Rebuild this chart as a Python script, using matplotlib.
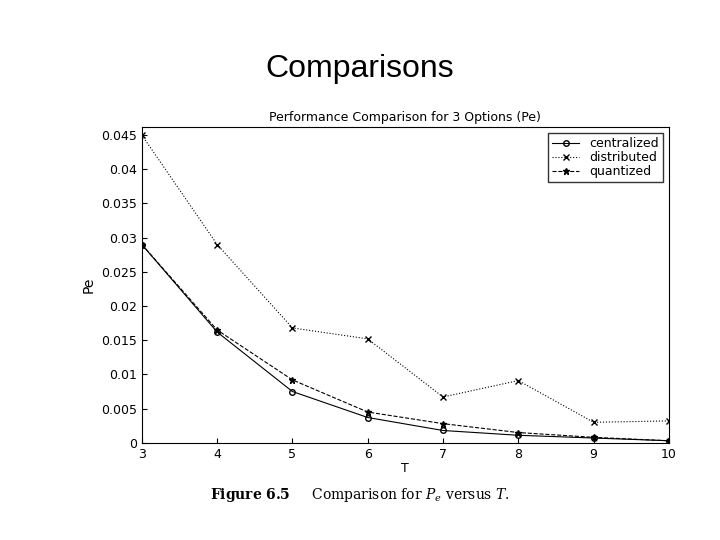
import matplotlib
matplotlib.use("Agg")
import matplotlib.pyplot as plt
plt.rcParams["mathtext.fontset"] = "dejavuserif"

T = [3, 4, 5, 6, 7, 8, 9, 10]
centralized = [0.029, 0.0162, 0.0075, 0.0037, 0.0018, 0.0011, 0.0007, 0.0003]
distributed = [0.045, 0.029, 0.0168, 0.0152, 0.0067, 0.0091, 0.003, 0.0032]
quantized = [0.029, 0.0165, 0.0092, 0.0045, 0.0028, 0.0015, 0.0008, 0.0003]
yticks = [0, 0.005, 0.01, 0.015, 0.02, 0.025, 0.03, 0.035, 0.04, 0.045]
yticklabels = ["0", "0.005", "0.01", "0.015", "0.02", "0.025", "0.03", "0.035", "0.04", "0.045"]

fig = plt.figure(figsize=(7.2, 5.4), dpi=100)
fig.text(0.5, 0.873, "Comparisons", ha="center", va="center", fontsize=23, family="Liberation Sans")
ax = fig.add_axes([0.197, 0.18, 0.732, 0.585])
ax.plot(T, centralized, "k-", marker="o", mfc="none", ms=4, lw=0.8, label="centralized")
ax.plot(T, distributed, "k:", marker="x", ms=4, lw=0.8, label="distributed")
ax.plot(T, quantized, "k--", marker="*", ms=5, lw=0.8, label="quantized")
ax.set_xlim(3, 10)
ax.set_ylim(0, 0.0462)
ax.set_xticks(T)
ax.set_yticks(yticks)
ax.set_yticklabels(yticklabels)
ax.tick_params(labelsize=9, direction="in")
ax.set_xlabel("T", fontsize=9, labelpad=1)
ax.set_ylabel("Pe", fontsize=10)
ax.set_title("Performance Comparison for 3 Options (Pe)", fontsize=9, pad=4)
ax.legend(loc="upper right", fontsize=9, frameon=True, fancybox=False, edgecolor="black",
          handlelength=2.2, borderpad=0.3, labelspacing=0.1)
fig.text(0.5, 0.075, r"$\mathbf{Figure\ 6.5}$     Comparison for $P_e$ versus $T$.",
         ha="center", fontsize=10, family="DejaVu Serif")
fig.savefig("out.png")
